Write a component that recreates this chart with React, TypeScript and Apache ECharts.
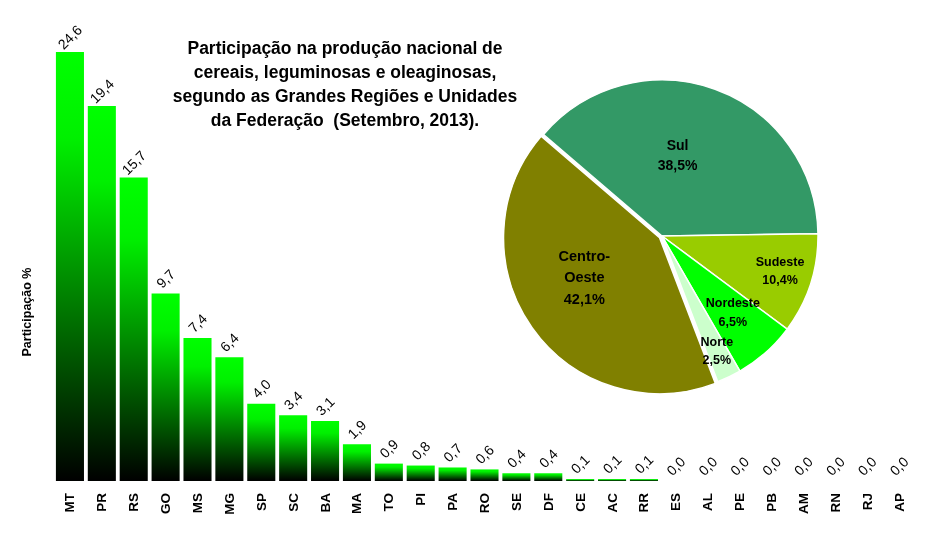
import React, { useEffect, useRef } from "react";
import * as echarts from "echarts";

const categories = ["MT", "PR", "RS", "GO", "MS", "MG", "SP", "SC", "BA", "MA", "TO", "PI", "PA", "RO", "SE", "DF", "CE", "AC", "RR", "ES", "AL", "PE", "PB", "AM", "RN", "RJ", "AP"];
const participacao = [24.6, 19.4, 15.7, 9.7, 7.4, 6.4, 4.0, 3.4, 3.1, 1.9, 0.9, 0.8, 0.7, 0.6, 0.4, 0.4, 0.1, 0.1, 0.1, 0.0, 0.0, 0.0, 0.0, 0.0, 0.0, 0.0, 0.0];

const regioes = ["Sul", "Sudeste", "Nordeste", "Norte", "Centro-Oeste"];
const regioesLabel = ["Sul", "Sudeste", "Nordeste", "Norte", "Centro-\nOeste"];
const regioesValores = [38.5, 10.4, 6.5, 2.5, 42.1];
const regioesCores = ["#339966", "#99cc00", "#00ff00", "#ccffcc", "#808000"];

const titleLines = [
  "Participação na produção nacional de",
  "cereais, leguminosas e oleaginosas,",
  "segundo as Grandes Regiões e Unidades",
  "da Federação  (Setembro, 2013).",
];

const FONT = "'Liberation Sans', Arial, sans-serif";

const fmt = (v: number, d = 1) => v.toFixed(d).replace(".", ",");

export default function App() {
  const ref = useRef<HTMLDivElement>(null);
  useEffect(() => {
    if (!ref.current) return;
    const chart = echarts.init(ref.current, undefined, { renderer: "svg" });
    const pieOffsets: Record<string, number[]> = {
      Sul: [-12, -5],
      Sudeste: [41, 10],
      Nordeste: [17, 16],
      Norte: [20, 42],
      "Centro-Oeste": [0, 0],
    };
    const piePadding: Record<string, number[]> = {
      Sul: [0, 0, 0, 0],
      Sudeste: [0, 0, 0, 0],
      Nordeste: [0, 0, 0, 0],
      Norte: [0, 0, 0, 0],
      "Centro-Oeste": [0, 18, 0, 0],
    };
    const pieSizes: Record<string, number> = {
      Sul: 14,
      Sudeste: 12.5,
      Nordeste: 12.5,
      Norte: 12.5,
      "Centro-Oeste": 14.5,
    };
    chart.setOption({
      animation: false,
      textStyle: { fontFamily: FONT },
      title: {
        text: titleLines.join("\n"),
        left: 340,
        top: 31,
        textAlign: "center",
        textStyle: { fontSize: 17.5, fontWeight: "bold", color: "#000", lineHeight: 24, fontFamily: FONT },
      },
      grid: { left: 54, right: 21, top: 52, bottom: 53, containLabel: false },
      xAxis: {
        type: "category",
        data: categories,
        axisLine: { show: false },
        axisTick: { show: false },
        axisLabel: { rotate: 90, margin: 12, fontSize: 13.5, fontWeight: "bold", color: "#000", fontFamily: FONT, interval: 0 },
      },
      yAxis: {
        type: "value",
        min: 0,
        max: 22.2,
        show: false,
        splitLine: { show: false },
      },
      series: [
        {
          type: "bar",
          data: participacao,
          barWidth: "88%",
          clip: true,
          itemStyle: {
            color: new echarts.graphic.LinearGradient(0, 0, 0, 1, [
              { offset: 0, color: "#00ff00" },
              { offset: 0.2, color: "#00f000" },
              { offset: 1, color: "#000000" },
            ]),
          },
          label: {
            show: true,
            position: "top",
            distance: 15,
            rotate: 45,
            align: "center",
            verticalAlign: "middle",
            fontSize: 14,
            color: "#000",
            fontFamily: FONT,
            formatter: (p: any) => fmt(p.value),
          },
        },
        {
          type: "pie",
          center: [662, 236],
          radius: 156,
          startAngle: 139.4,
          clockwise: true,
          selectedMode: "single",
          selectedOffset: 3,
          itemStyle: { borderColor: "#fff", borderWidth: 1.5 },
          emphasis: { disabled: true },
          data: regioes.map((name, i) => ({
            name,
            value: regioesValores[i],
            selected: name === "Centro-Oeste",
            itemStyle: { color: regioesCores[i] },
            label: {
              show: true,
              position: "inside",
              offset: pieOffsets[name],
              padding: piePadding[name],
              fontSize: pieSizes[name],
              lineHeight: name === "Centro-Oeste" ? 21.5 : pieSizes[name] + 6,
              fontWeight: "bold",
              color: "#000",
              fontFamily: FONT,
              rich: { s: { lineHeight: 14, fontSize: 1 } },
              formatter: () =>
                regioesLabel[i] + "\n" + fmt(regioesValores[i]) + "%" + (name === "Centro-Oeste" ? "\n{s| }" : ""),
            },
          })),
          labelLine: { show: false },
        },
      ],
      graphic: [
        {
          type: "text",
          x: 27,
          y: 312,
          rotation: Math.PI / 2,
          style: {
            text: "Participação %",
            fontSize: 12.5,
            fontWeight: "bold",
            fill: "#000",
            fontFamily: FONT,
            textAlign: "center",
            textVerticalAlign: "middle",
          },
        },
      ],
    });
    return () => chart.dispose();
  }, []);
  return <div ref={ref} style={{ position: "fixed", left: 0, top: 0, width: 936, height: 534 }} />;
}
